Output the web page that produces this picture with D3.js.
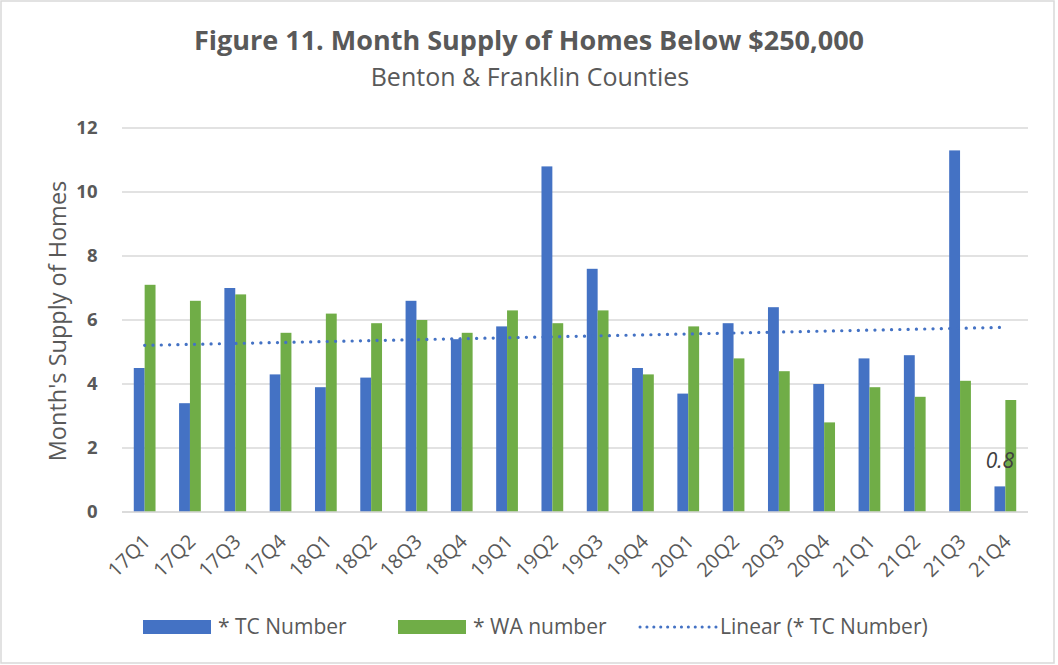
<!DOCTYPE html>
<html>
<head>
<meta charset="utf-8">
<script src="https://cdn.jsdelivr.net/npm/d3@7"></script>
<style>
  html, body { margin: 0; padding: 0; background: #fff; }
  svg { display: block; font-family: "Open Sans", Lato, sans-serif; }
</style>
</head>
<body>
<div id="chart"></div>
<script>
const quarters = ["17Q1","17Q2","17Q3","17Q4","18Q1","18Q2","18Q3","18Q4","19Q1","19Q2",
                  "19Q3","19Q4","20Q1","20Q2","20Q3","20Q4","21Q1","21Q2","21Q3","21Q4"];
const tcNumber = [4.5, 3.4, 7.0, 4.3, 3.9, 4.2, 6.6, 5.4, 5.8, 10.8,
                  7.6, 4.5, 3.7, 5.9, 6.4, 4.0, 4.8, 4.9, 11.3, 0.8];
const waNumber = [7.1, 6.6, 6.8, 5.6, 6.2, 5.9, 6.0, 5.6, 6.3, 5.9,
                  6.3, 4.3, 5.8, 4.8, 4.4, 2.8, 3.9, 3.6, 4.1, 3.5];
const yTicks = [0, 2, 4, 6, 8, 10, 12];
const seriesNames = ["* TC Number", "* WA number"];
const trendName = "Linear (* TC Number)";
const labelledPoint = "21Q4"; // only the last TC bar carries a data label

const W = 1058, H = 665;
const margin = { top: 128, right: 30, bottom: 153, left: 122 };
const plotW = W - margin.left - margin.right;
const plotH = H - margin.top - margin.bottom;
const colors = ["#4472C4", "#70AD47"];
const textColor = "#595959";

const svg = d3.select("#chart").append("svg")
    .attr("width", W).attr("height", H);

// chart border
svg.append("rect")
    .attr("x", 1).attr("y", 1).attr("width", W - 5).attr("height", H - 3)
    .attr("fill", "#fff").attr("stroke", "#d9d9d9").attr("stroke-width", 1.5);

// titles
svg.append("text")
    .attr("x", 529).attr("y", 50)
    .attr("text-anchor", "middle")
    .attr("font-size", 27).attr("font-weight", 700)
    .attr("fill", textColor)
    .text("Figure 11. Month Supply of Homes Below $250,000");

svg.append("text")
    .attr("x", 530).attr("y", 86)
    .attr("text-anchor", "middle")
    .attr("font-size", 25)
    .attr("fill", textColor)
    .text("Benton & Franklin Counties");

const g = svg.append("g")
    .attr("transform", `translate(${margin.left},${margin.top})`);

// scales
const x0 = d3.scaleBand().domain(quarters).range([0, plotW]);
const barW = x0.bandwidth() * 0.24;
const x1 = d3.scaleBand().domain([0, 1])
    .range([x0.bandwidth() / 2 - barW, x0.bandwidth() / 2 + barW]);
const y = d3.scaleLinear().domain([0, 12]).range([plotH, 0]);

// gridlines
g.append("g")
    .selectAll("line")
    .data(yTicks)
    .join("line")
    .attr("x1", 0).attr("x2", plotW)
    .attr("y1", d => y(d)).attr("y2", d => y(d))
    .attr("stroke", "#d9d9d9").attr("stroke-width", 1.5);

// y axis labels
const yAxis = g.append("g")
    .call(d3.axisLeft(y).tickValues(yTicks).tickSize(0).tickPadding(24.5));
yAxis.select(".domain").remove();
yAxis.selectAll("text")
    .attr("font-family", "'Open Sans', sans-serif")
    .attr("font-size", 18.5).attr("font-weight", 700)
    .attr("fill", textColor);

// y axis title
svg.append("text")
    .attr("transform", `translate(66, ${margin.top + plotH / 2 + 1}) rotate(-90)`)
    .attr("text-anchor", "middle")
    .attr("font-size", 23.5)
    .attr("fill", textColor)
    .text("Month's Supply of Homes");

// bars
const series = [tcNumber, waNumber];
const groups = g.append("g")
    .selectAll("g")
    .data(quarters)
    .join("g")
    .attr("transform", d => `translate(${x0(d)},0)`);

groups.selectAll("rect")
    .data((q, i) => series.map((s, k) => ({ k, v: s[i] })))
    .join("rect")
    .attr("x", d => x1(d.k))
    .attr("width", x1.bandwidth())
    .attr("y", d => y(d.v))
    .attr("height", d => y(0) - y(d.v))
    .attr("fill", d => colors[d.k]);

// zero axis line drawn over bars
g.append("line")
    .attr("x1", 0).attr("x2", plotW)
    .attr("y1", y(0)).attr("y2", y(0))
    .attr("stroke", "#d9d9d9").attr("stroke-width", 1.5);

// x axis labels
const xAxis = g.append("g")
    .attr("transform", `translate(0,${plotH})`)
    .call(d3.axisBottom(x0).tickSize(0).tickPadding(0));
xAxis.select(".domain").remove();
xAxis.selectAll("text")
    .attr("font-family", "'Open Sans', sans-serif")
    .attr("font-size", 20)
    .attr("fill", textColor)
    .attr("text-anchor", "end")
    .attr("dy", "0.35em")
    .attr("transform", "translate(2,26) rotate(-45)");

// linear trend line for TC
const n = tcNumber.length;
const xs = d3.range(n);
const mx = d3.mean(xs), my = d3.mean(tcNumber);
const slope = d3.sum(xs, i => (i - mx) * (tcNumber[i] - my)) / d3.sum(xs, i => (i - mx) ** 2);
const intercept = my - slope * mx;
const trend = [0, n - 1].map(i => ({ q: quarters[i], v: intercept + slope * i }));

g.append("path")
    .datum(trend)
    .attr("d", d3.line()
        .x(d => x0(d.q) + x0.bandwidth() / 2)
        .y(d => y(d.v)))
    .attr("fill", "none")
    .attr("stroke", colors[0])
    .attr("stroke-width", 3.2)
    .attr("stroke-linecap", "round")
    .attr("stroke-dasharray", "0.1 8.2");

// data label
const li = quarters.indexOf(labelledPoint);
g.append("text")
    .attr("x", x0(labelledPoint) + x1(0) + x1.bandwidth() / 2)
    .attr("y", y(tcNumber[li]) - 18)
    .attr("text-anchor", "middle")
    .attr("font-size", 21).attr("font-style", "italic")
    .attr("fill", "#404040")
    .text(tcNumber[li]);

// legend
const legend = svg.append("g").attr("transform", "translate(0,627)");
const legendX = [143, 398];
seriesNames.forEach((name, k) => {
    legend.append("rect")
        .attr("x", legendX[k]).attr("y", -7)
        .attr("width", 68).attr("height", 14)
        .attr("fill", colors[k]);
    legend.append("text")
        .attr("x", legendX[k] + 75).attr("y", 0)
        .attr("dy", "0.35em")
        .attr("font-size", 21)
        .attr("fill", textColor)
        .text(name);
});
legend.append("line")
    .attr("x1", 640).attr("x2", 716)
    .attr("y1", 0).attr("y2", 0)
    .attr("stroke", colors[0])
    .attr("stroke-width", 3)
    .attr("stroke-linecap", "round")
    .attr("stroke-dasharray", "0.1 6.8");
legend.append("text")
    .attr("x", 720).attr("y", 0)
    .attr("dy", "0.35em")
    .attr("font-size", 21)
    .attr("fill", textColor)
    .text(trendName);
</script>
</body>
</html>
